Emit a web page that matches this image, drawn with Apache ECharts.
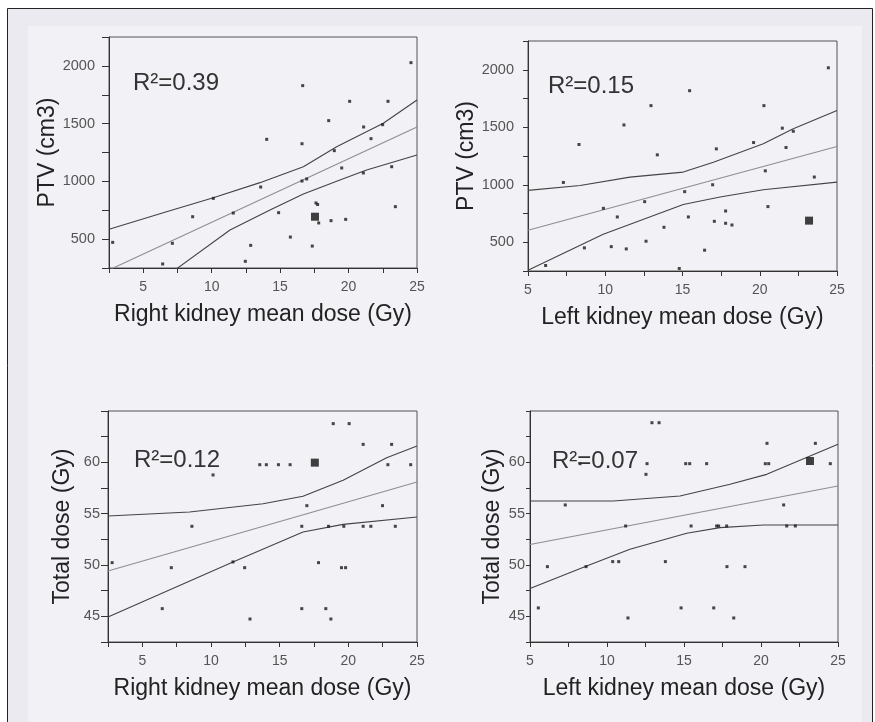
<!DOCTYPE html>
<html><head><meta charset="utf-8">
<script src="https://cdn.jsdelivr.net/npm/echarts@6/dist/echarts.min.js"></script>
<style>html,body{margin:0;padding:0;background:#fff}#c{width:875px;height:722px}</style>
</head><body><div id="c"></div>
<script>
// ---------- DATA ----------
const xTickLabels = [5, 10, 15, 20, 25];
const ptvTickLabels = [500, 1000, 1500, 2000];
const doseTickLabels = [45, 50, 55, 60];
const r2Labels = ['R\u00B2=0.39', 'R\u00B2=0.15', 'R\u00B2=0.12', 'R\u00B2=0.07'];

// Panel A: PTV vs right kidney mean dose
const ptvRightPts = [[2.77,472],[6.42,285],[7.13,464],[8.61,694],[10.12,853],[11.58,726],[12.46,308],[12.85,446],[13.58,951],[14.02,1364],[14.89,729],[15.75,518],[16.6,1326],[16.6,1003],[16.65,1829],[16.94,1021],[17.35,440],[17.62,813],[17.74,800],[17.82,640],[18.55,1526],[18.72,660],[18.96,1266],[19.5,1116],[19.79,671],[20.08,1693],[21.08,1073],[21.1,1471],[21.64,1370],[22.49,1491],[22.88,1693],[23.15,1127],[23.42,781],[24.56,2028]];
const ptvRightHighlight = [[17.55,694]];
const ptvRightFit = [[2.5,233],[25,1470]];
const ptvRightUpper = [[2.57,588],[6.46,729],[10.12,859],[13.53,989],[16.7,1127],[19.13,1300],[22.54,1503],[25,1705]];
const ptvRightLower = [[7.4,240],[11.34,579],[14.26,752],[16.7,891],[19.37,1012],[21.32,1098],[25,1228]];

// Panel B: PTV vs left kidney mean dose
const ptvLeftPts = [[6.14,298],[7.29,1020],[8.3,1350],[8.65,451],[9.88,795],[10.39,462],[10.78,720],[11.21,1520],[11.36,442],[12.55,853],[12.64,509],[12.96,1688],[13.37,1260],[13.8,630],[14.79,272],[15.14,940],[15.38,720],[15.46,1818],[16.43,431],[16.95,1000],[17.06,682],[17.19,1312],[17.79,772],[17.79,665],[18.2,650],[19.6,1367],[20.27,1688],[20.36,1121],[20.53,810],[21.46,1492],[21.7,1324],[22.17,1465],[23.53,1067],[24.44,2017]];
const ptvLeftHighlight = [[23.19,688]];
const ptvLeftFit = [[5,604],[25,1332]];
const ptvLeftUpper = [[5,951],[8.37,994],[11.6,1066],[15.05,1110],[17.0,1196],[20.23,1356],[22.17,1486],[25,1645]];
const ptvLeftLower = [[5,257],[9.87,569],[15.05,829],[17.43,893],[20.23,957],[25,1023]];

// Panel C: total dose vs right kidney mean dose
const doseRightPts = [[2.8,50.23],[6.45,45.75],[7.11,49.74],[8.61,53.77],[10.15,58.77],[11.6,50.3],[12.45,49.74],[12.84,44.74],[13.55,59.77],[14.03,59.77],[14.91,59.77],[15.76,59.77],[16.61,53.77],[16.61,45.75],[16.98,55.78],[17.83,50.23],[18.36,45.75],[18.56,53.77],[18.73,44.74],[18.9,63.77],[19.5,49.74],[19.8,49.74],[19.67,53.77],[20.06,63.77],[21.08,61.75],[21.08,53.77],[21.64,53.77],[22.49,55.78],[22.88,59.77],[23.15,61.75],[23.42,53.77],[24.54,59.77]];
const doseRightHighlight = [[17.56,59.97]];
const doseRightFit = [[2.5,49.42],[25,58.08]];
const doseRightUpper = [[2.5,54.77],[8.44,55.16],[13.79,55.97],[16.7,56.69],[19.62,58.25],[22.79,60.45],[25,61.59]];
const doseRightLower = [[2.5,44.94],[11.6,50.3],[16.7,53.21],[19.62,53.96],[25,54.67]];

// Panel D: total dose vs left kidney mean dose
const doseLeftPts = [[5.54,45.82],[6.13,49.84],[7.29,55.85],[8.25,59.87],[8.64,49.84],[10.37,50.33],[10.76,50.33],[11.21,53.8],[11.36,44.84],[12.53,58.83],[12.6,59.87],[12.92,63.86],[13.38,63.86],[13.79,50.33],[14.81,45.82],[15.11,59.87],[15.37,59.87],[15.46,53.8],[16.47,59.87],[16.93,45.82],[17.12,53.8],[17.25,53.8],[17.77,53.8],[17.79,49.84],[18.23,44.84],[18.96,49.84],[20.28,59.87],[20.5,59.87],[20.39,61.85],[21.47,55.85],[21.67,53.8],[22.23,53.8],[23.53,61.85],[24.5,59.87]];
const doseLeftHighlight = [[23.18,60.13]];
const doseLeftFit = [[5,52.0],[25,57.7]];
const doseLeftUpper = [[5,56.23],[10.41,56.23],[14.74,56.72],[17.99,57.86],[20.37,58.83],[25,61.75]];
const doseLeftLower = [[5,47.7],[8.68,49.9],[11.49,51.53],[15.18,53.09],[17.34,53.64],[20.15,53.9],[25,53.9]];

// ---------- CHART ----------
const FONT = 'Liberation Sans, Arial, sans-serif';
const chart = echarts.init(document.getElementById('c'), null, {renderer: 'canvas'});

const grids = [
  {left: 109, top: 37, width: 308, height: 231},
  {left: 528, top: 41, width: 309, height: 230},
  {left: 108, top: 411, width: 309, height: 231},
  {left: 530, top: 411, width: 308, height: 231}
].map(g => Object.assign({show: true, borderColor: '#555', borderWidth: 1, backgroundColor: 'transparent'}, g));

function xAxis(i, min, name) {
  return {
    type: 'value', gridIndex: i, min: min, max: 25, interval: 2.5,
    name: name, nameLocation: 'middle', nameGap: 35,
    nameTextStyle: {fontFamily: FONT, fontSize: 23, color: '#222'},
    axisLine: {show: true, lineStyle: {color: '#333', width: 1}},
    axisTick: {show: true, length: 5, lineStyle: {color: '#333'}},
    splitLine: {show: false},
    axisLabel: {
      margin: 12, fontFamily: FONT, fontSize: 14, color: '#555',
      showMinLabel: true, showMaxLabel: true,
      formatter: v => xTickLabels.includes(Math.round(v * 100) / 100) ? String(v) : ''
    }
  };
}
function yAxis(i, min, max, interval, labels, name, nameGap, margin, tickLen) {
  return {
    type: 'value', gridIndex: i, min: min, max: max, interval: interval,
    name: name, nameLocation: 'middle', nameGap: nameGap,
    nameTextStyle: {fontFamily: FONT, fontSize: 23, color: '#222'},
    axisLine: {show: true, lineStyle: {color: '#333', width: 1}},
    axisTick: {show: true, length: tickLen, lineStyle: {color: '#333'}},
    splitLine: {show: false},
    axisLabel: {
      margin: margin, fontFamily: FONT, fontSize: 14.5, color: '#555',
      formatter: v => labels.includes(Math.round(v * 100) / 100) ? String(v) : ''
    }
  };
}

function panelSeries(i, pts, hi, fit, up, lo) {
  const base = {xAxisIndex: i, yAxisIndex: i};
  return [
    Object.assign({type: 'line', data: up, symbol: 'none', clip: true, lineStyle: {color: '#444', width: 1.1}, z: 3}, base),
    Object.assign({type: 'line', data: fit, symbol: 'none', clip: true, lineStyle: {color: '#8f8f8f', width: 1.1}, z: 3}, base),
    Object.assign({type: 'line', data: lo, symbol: 'none', clip: true, lineStyle: {color: '#444', width: 1.1}, z: 3}, base),
    Object.assign({type: 'scatter', data: pts, symbol: 'rect', symbolSize: 3, itemStyle: {color: '#1a1a1a'}, z: 4}, base),
    Object.assign({type: 'scatter', data: hi, symbol: 'rect', symbolSize: 8, itemStyle: {color: '#111'}, z: 5}, base)
  ];
}

const r2Pos = [[133, 83.5], [548, 86.5], [134, 460.5], [552, 461.5]];

const option = {
  animation: false,
  backgroundColor: '#ffffff',
  grid: grids,
  xAxis: [
    xAxis(0, 2.5, 'Right kidney mean dose (Gy)'),
    xAxis(1, 5, 'Left kidney mean dose (Gy)'),
    xAxis(2, 2.5, 'Right kidney mean dose (Gy)'),
    xAxis(3, 5, 'Left kidney mean dose (Gy)')
  ],
  yAxis: [
    yAxis(0, 250, 2250, 250, ptvTickLabels, 'PTV (cm3)', 47, 14, 7),
    yAxis(1, 250, 2250, 250, ptvTickLabels, 'PTV (cm3)', 48, 14, 5),
    yAxis(2, 42.5, 65, 2.5, doseTickLabels, 'Total dose (Gy)', 34, 8, 7),
    yAxis(3, 42.5, 65, 2.5, doseTickLabels, 'Total dose (Gy)', 26, 5, 4)
  ],
  graphic: [
    {type: 'rect', z: -100, silent: true, shape: {x: 7.5, y: 8.5, width: 865, height: 730}, style: {fill: '#eaeaf0', stroke: '#222', lineWidth: 1}},
    {type: 'rect', z: -99, silent: true, shape: {x: 28, y: 26, width: 834, height: 720}, style: {fill: '#f1f1f6'}}
  ].concat(r2Labels.map((t, k) => ({
    type: 'text', z: 100, x: r2Pos[k][0], y: r2Pos[k][1],
    style: {text: t, font: '24px ' + FONT, fill: '#333', verticalAlign: 'middle', align: 'left'}
  }))),
  series: [].concat(
    panelSeries(0, ptvRightPts, ptvRightHighlight, ptvRightFit, ptvRightUpper, ptvRightLower),
    panelSeries(1, ptvLeftPts, ptvLeftHighlight, ptvLeftFit, ptvLeftUpper, ptvLeftLower),
    panelSeries(2, doseRightPts, doseRightHighlight, doseRightFit, doseRightUpper, doseRightLower),
    panelSeries(3, doseLeftPts, doseLeftHighlight, doseLeftFit, doseLeftUpper, doseLeftLower)
  )
};
chart.setOption(option);
</script></body></html>
